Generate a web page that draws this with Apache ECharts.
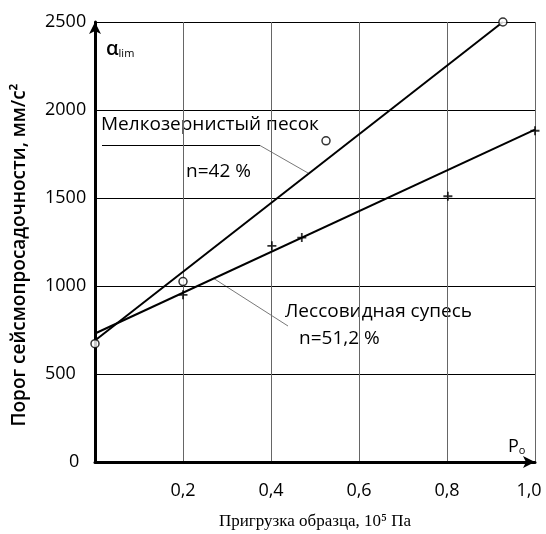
<!DOCTYPE html>
<html>
<head>
<meta charset="utf-8">
<script src="https://cdn.jsdelivr.net/npm/echarts@6/dist/echarts.min.js"></script>
<style>html,body{margin:0;padding:0;background:#fff;overflow:hidden}#c{width:546px;height:534px}</style>
</head>
<body>
<div id="c"></div>
<script>
// Data
const xTicks = [0, 0.2, 0.4, 0.6, 0.8, 1.0];
const yTicks = [0, 500, 1000, 1500, 2000, 2500];
const sandName = 'Мелкозернистый песок';
const sandX = [0, 0.2, 0.525, 0.927];
const sandY = [672, 1025, 1825, 2500];
const sandFitX = [0, 0.927];
const sandFitY = [690, 2500];
const loessName = 'Лессовидная супесь';
const loessX = [0.2, 0.402, 0.47, 0.802, 1.0];
const loessY = [950, 1228, 1275, 1510, 1882];
const loessFitX = [0, 1.0];
const loessFitY = [730, 1888];
const xTitle = 'Пригрузка образца, 10⁵ Па';
const yTitle = 'Порог сейсмопросадочности, мм/с²';

const zip = (a, b) => a.map((v, i) => [v, b[i]]);
const plusPath = 'path://M4,0h2v4h4v2h-4v4h-2v-4h-4v-2h4z';
const sans = 'Open Sans';

const chart = echarts.init(document.getElementById('c'), null, {renderer: 'canvas', width: 546, height: 534, devicePixelRatio: 1});
chart.setOption({
  animation: false,
  backgroundColor: '#fff',
  grid: {left: 95, right: 11, top: 22, bottom: 72, containLabel: false, outerBoundsMode: 'none'},
  xAxis: {
    type: 'value', min: xTicks[0], max: xTicks[xTicks.length - 1], interval: 0.2,
    name: xTitle, nameLocation: 'middle', nameGap: 51,
    nameTextStyle: {fontFamily: 'Liberation Serif', fontSize: 17, color: '#000'},
    axisLine: {show: true, lineStyle: {color: '#000', width: 3}, symbol: ['none', 'arrow'], symbolSize: [9, 12]},
    axisTick: {show: false},
    axisLabel: {showMinLabel: false, margin: 20, fontFamily: sans, fontSize: 18, color: '#000',
      formatter: v => v === 1 ? '{r|1,0}' : v.toFixed(1).replace('.', ','),
      rich: {r: {fontFamily: sans, fontSize: 18, color: '#000', padding: [0, 12, 0, 0]}}},
    splitLine: {show: true, lineStyle: {color: '#666', width: 1}}
  },
  yAxis: {
    type: 'value', min: yTicks[0], max: yTicks[yTicks.length - 1], interval: 500,
    axisLine: {show: true, lineStyle: {color: '#000', width: 3}, symbol: ['none', 'arrow'], symbolSize: [9, 12]},
    axisTick: {show: false},
    axisLabel: {margin: 50, align: 'left', fontFamily: sans, fontSize: 18, color: '#000',
      formatter: v => v === 0 ? '{z|0}' : String(v),
      rich: {z: {fontFamily: sans, fontSize: 18, color: '#000', padding: [0, 0, 0, 24]}}},
    splitLine: {show: true, lineStyle: {color: '#000', width: 1}}
  },
  series: [
    {name: sandName + ' fit', type: 'line', data: zip(sandFitX, sandFitY), symbol: 'none',
      lineStyle: {color: '#000', width: 2}, z: 3},
    {name: loessName + ' fit', type: 'line', data: zip(loessFitX, loessFitY), symbol: 'none',
      lineStyle: {color: '#000', width: 2}, z: 3},
    {name: sandName, type: 'scatter', data: zip(sandX, sandY), symbol: 'circle', symbolSize: 8,
      itemStyle: {color: '#fff', borderColor: '#000', borderWidth: 1.5}, z: 4},
    {name: loessName, type: 'scatter', data: zip(loessX, loessY), symbol: plusPath, symbolSize: 9,
      itemStyle: {color: '#000'}, z: 4}
  ],
  graphic: [
    {type: 'text', x: 20, y: 255, rotation: Math.PI / 2, style: {
      text: yTitle, fontFamily: sans, fontSize: 19, fontWeight: 600, fill: '#000', align: 'center', verticalAlign: 'middle'}},
    {type: 'text', left: 106, top: 39, style: {
      text: '{a|α}{s|lim}', rich: {a: {fontFamily: sans, fontSize: 20, fontWeight: 600, fill: '#000'}, s: {fontFamily: sans, fontSize: 11, fill: '#000', padding: [9, 0, 0, 0]}}}},
    {type: 'text', left: 508, top: 438, style: {
      text: '{a|P}{s|o}', rich: {a: {fontFamily: sans, fontSize: 18, fill: '#000'}, s: {fontFamily: sans, fontSize: 11, fill: '#000', padding: [8, 0, 0, 0]}}}},
    {type: 'text', left: 101, top: 115, style: {text: sandName, fontFamily: sans, fontSize: 19, fill: '#000'}},
    {type: 'text', left: 186, top: 162, style: {text: 'n=42 %', fontFamily: sans, fontSize: 19, fill: '#000'}},
    {type: 'line', shape: {x1: 102, y1: 145.5, x2: 260, y2: 145.5}, style: {stroke: '#000', lineWidth: 1.2}},
    {type: 'line', shape: {x1: 260, y1: 145.5, x2: 308, y2: 173}, style: {stroke: '#555', lineWidth: 0.8}},
    {type: 'text', left: 285, top: 302, style: {text: loessName, fontFamily: sans, fontSize: 19, fill: '#000'}},
    {type: 'text', left: 299, top: 329, style: {text: 'n=51,2 %', fontFamily: sans, fontSize: 19, fill: '#000'}},
    {type: 'line', shape: {x1: 213, y1: 278, x2: 288, y2: 326}, style: {stroke: '#555', lineWidth: 0.8}}
  ]
});
</script>
</body>
</html>
